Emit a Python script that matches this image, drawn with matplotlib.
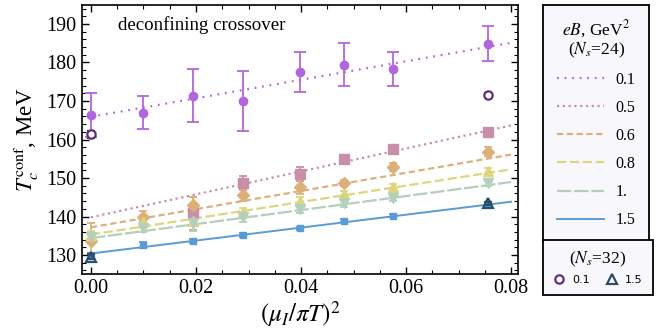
import numpy as np
import matplotlib
matplotlib.use("Agg")
import matplotlib.pyplot as plt
from matplotlib.lines import Line2D

plt.rcParams['font.family'] = ['Liberation Serif', 'DejaVu Serif']
plt.rcParams['mathtext.fontset'] = 'stix'

# ---------------- data ----------------
x = [0.0, 0.0099, 0.0194, 0.0289, 0.0398, 0.0482, 0.0575, 0.0756]

eB_labels = ["0.1", "0.5", "0.6", "0.8", "1.", "1.5"]

T_01 = [166.4, 167.0, 171.4, 170.0, 177.5, 179.4, 178.2, 184.9]
E_01 = [5.8, 4.2, 6.9, 7.7, 5.1, 5.6, 4.4, 4.6]

T_05 = [np.nan, np.nan, 140.8, 148.8, 151.0, 154.9, 157.5, 161.9]
E_05 = [0.0, 0.0, 4.2, 1.8, 1.8, 0.6, 0.6, 0.8]

T_06 = [133.7, 140.0, 143.0, 145.6, 147.7, 148.6, 152.9, 156.8]
E_06 = [4.5, 1.5, 2.0, 1.5, 1.8, 0.8, 1.0, 1.2]

T_08 = [135.2, 138.5, 138.8, 141.2, 144.0, 145.8, 147.7, 151.8]
E_08 = [1.0, 1.0, 2.5, 1.0, 1.0, 0.8, 0.8, 0.8]

T_10 = [134.8, 137.0, 138.2, 139.8, 141.9, 143.4, 144.9, 148.6]
E_10 = [1.0, 1.0, 2.0, 1.2, 1.0, 0.8, 0.8, 0.8]

T_15 = [129.8, 132.6, 133.7, 135.2, 136.9, 138.9, 140.2, 143.3]
E_15 = [0.8, 0.8, 0.5, 0.4, 0.4, 0.4, 0.4, 0.4]

# linear fits: intercept, slope
fit_intercept = [165.9, 139.8, 137.2, 135.3, 134.4, 130.4]
fit_slope = [240.0, 298.0, 236.0, 212.0, 182.0, 168.0]
fit_range = [0.0, 0.08]

# N_s = 32
x32 = [0.0, 0.0756]
T32_01 = [161.3, 171.6]
E32_01 = [1.0, 0.5]
T32_15 = [129.6, 143.4]
E32_15 = [0.6, 0.4]

# ---------------- style ----------------
colors = ["#b266dd", "#c98fa8", "#ddb07a", "#dcd67e", "#b4cfbb", "#5b9bd5"]
markers = ["o", "s", "D", "^", "v", "s"]
msizes = [6, 7, 6.5, 7.5, 7.5, 4]
dashes = [(0.8, 2.6), (1.0, 1.6), (2.8, 1.6), (4.2, 1.6), (6.5, 1.2), None]
caps = [4, 3, 3, 3, 3, 3]

series = [(T_01, E_01), (T_05, E_05), (T_06, E_06), (T_08, E_08), (T_10, E_10), (T_15, E_15)]

fig = plt.figure(figsize=(6.70, 3.32), dpi=100)
ax = fig.add_axes([82/670, 1-274.3/332, (518-82)/670, (274.3-4.7)/332])

xf = np.array(fit_range)
handles = []
for i, (T, E) in enumerate(series):
    c = colors[i]
    ax.errorbar(x, T, yerr=E, fmt=markers[i], color=c, ms=msizes[i],
                capsize=caps[i], elinewidth=1.3, capthick=1.3, mec=c, zorder=3)
    yf = fit_intercept[i] + fit_slope[i]*xf
    if dashes[i] is None:
        ln, = ax.plot(xf, yf, '-', color=c, lw=1.4, zorder=2)
    else:
        ln, = ax.plot(xf, yf, '--', color=c, lw=1.6, dashes=dashes[i], zorder=2)
    handles.append(ln)

ax.errorbar(x32, T32_01, yerr=E32_01, fmt='o', mfc='white', mec='#5e2f80', color='#5e2f80',
            ms=6, mew=1.6, capsize=3, elinewidth=1.0, zorder=4)
ax.errorbar(x32, T32_15, yerr=E32_15, fmt='^', mfc='none', mec='#2b4e6b', color='#2b4e6b',
            ms=7.5, mew=1.6, capsize=3, elinewidth=1.0, zorder=4)

ax.set_xlim(-0.0017, 0.0813)
ax.set_ylim(125, 195)
ax.set_xticks([0.0, 0.02, 0.04, 0.06, 0.08])
ax.set_xticklabels(["0.00", "0.02", "0.04", "0.06", "0.08"])
ax.set_yticks([130, 140, 150, 160, 170, 180, 190])
ax.set_xticks(np.arange(0, 0.0813, 0.005), minor=True)
ax.set_yticks(np.arange(126, 195, 2), minor=True)
ax.tick_params(which='both', direction='in', top=True, right=True, labelsize=14.5)
ax.tick_params(which='major', length=5, width=1.0)
ax.tick_params(which='minor', length=3, width=0.8)
ax.tick_params(axis='y', pad=4)
for s in ax.spines.values():
    s.set_linewidth(1.2)

ax.set_xlabel(r"$(\mu_I/\pi T)^2$", fontsize=18, labelpad=1)
ax.set_ylabel(r"$T_c^{\rm conf}$, MeV", fontsize=16.5, labelpad=4)
ax.text(0.0052, 189.8, "deconfining crossover", fontsize=13.6, ha='left', va='center')

leg1 = fig.legend(handles, eB_labels, loc='upper left',
                  bbox_to_anchor=(543/670, 1-5/332), borderaxespad=0,
                  title="$eB$, GeV$^2$\n($N_s$=24)", title_fontsize=12.5, fontsize=11.5,
                  handlelength=3.0, handletextpad=0.7, labelspacing=0.76,
                  frameon=True, fancybox=False, edgecolor='black',
                  facecolor='#f8f8fc', framealpha=1, borderpad=0.85)
leg1.get_frame().set_linewidth(1.3)
leg1.get_title().set_multialignment('center')
leg1.get_title().set_linespacing(1.0)

h32 = [Line2D([], [], marker='o', ls='none', mfc='white', mec='#5e2f80', ms=6, mew=1.6),
       Line2D([], [], marker='^', ls='none', mfc='none', mec='#2b4e6b', ms=7.5, mew=1.6)]
leg2 = fig.legend(h32, ["0.1", "1.5"], loc='upper left', ncol=2,
                  bbox_to_anchor=(543/670, 1-240/332), borderaxespad=0,
                  title="($N_s$=32)", title_fontsize=12.5,
                  prop={'family': 'DejaVu Sans', 'size': 8},
                  handlelength=1.0, handletextpad=0.7, columnspacing=1.5,
                  frameon=True, fancybox=False, edgecolor='black',
                  facecolor='#f8f8fc', framealpha=1, borderpad=0.9)
leg2.get_frame().set_linewidth(1.3)

fig.savefig("out.png", dpi=100)
